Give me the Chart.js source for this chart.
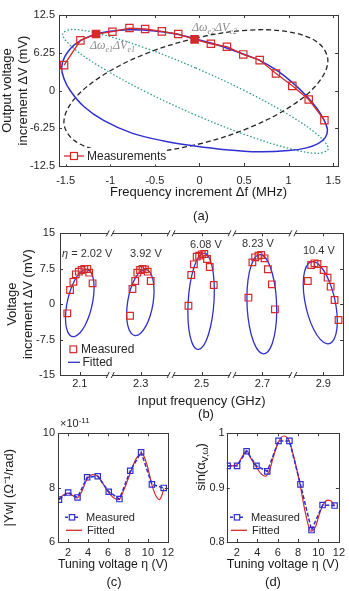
<!DOCTYPE html>
<html><head><meta charset="utf-8">
<script src="https://cdn.jsdelivr.net/npm/chart.js@4.4.0/dist/chart.umd.min.js"></script>
<style>
body{margin:0;background:#fff;width:349px;height:591px;position:relative;overflow:hidden;font-family:'Liberation Sans',Arial,sans-serif}
canvas{position:absolute}
.lab{position:absolute;font-size:13px;color:#1a1a1a;transform:translate(-50%,-50%)}
</style></head><body>
<canvas id="ca" width="349" height="200" style="left:0;top:0"></canvas>
<canvas id="cb" width="349" height="212" style="left:0;top:200px"></canvas>
<canvas id="cc" width="178" height="162" style="left:0;top:410px"></canvas>
<canvas id="cd" width="179" height="162" style="left:170px;top:410px"></canvas>
<div class="lab" style="left:201px;top:215px">(a)</div>
<div class="lab" style="left:206px;top:413px">(b)</div>
<div class="lab" style="left:114px;top:581px">(c)</div>
<div class="lab" style="left:273px;top:581px">(d)</div>
<script>
// ---- (a) frequency / voltage loci ----
const aXTicks = [-1.5, -1, -0.5, 0, 0.5, 1, 1.5];
const aXLabels = ['-1.5', '-1', '-0.5', '0', '0.5', '1', '1.5'];
const aYTicks = [-12.5, -6.25, 0, 6.25, 12.5];
const aYLabels = ['-12.5', '-6.25', '0', '6.25', '12.5'];
const aMeasX = [-1.518, -1.335, -1.159, -0.976, -0.785, -0.609, -0.422, -0.238, -0.055, 0.128, 0.308, 0.491, 0.675, 0.858, 1.041, 1.225, 1.401];
const aMeasY = [4.2, 8.3, 9.35, 9.73, 10.34, 10.18, 9.79, 9.35, 8.46, 7.74, 7.25, 5.97, 5.03, 2.82, 0.77, -1.49, -4.92];
const aFilled = [2, 8];
const aBlueX = [-0.05, 0.13, 0.31, 0.49, 0.68, 0.86, 1.04, 1.20, 1.32, 1.40, 1.435, 1.41, 1.33, 1.20, 1.00, 0.66, 0.29, -0.05, -0.40, -0.75, -1.07, -1.30, -1.45, -1.52, -1.545, -1.51, -1.40, -1.22, -1.00, -0.78, -0.50, -0.25];
const aBlueY = [8.55, 7.85, 7.0, 6.05, 4.95, 3.4, 1.35, -0.9, -3.0, -5.0, -6.5, -7.8, -8.8, -9.5, -9.95, -10.15, -9.8, -9.2, -8.35, -7.1, -5.0, -2.6, 0.0, 2.0, 3.8, 5.6, 7.6, 9.05, 9.8, 10.05, 9.85, 9.3];
const aGreenX = [-0.045, -0.616, -1.099, -1.422, -1.535, -1.422, -1.099, -0.616, -0.045, 0.526, 1.009, 1.332, 1.445, 1.332, 1.009, 0.526];
const aGreenY = [3.75, 7.08, 9.31, 10.10, 9.33, 7.12, 3.80, -0.12, -4.05, -7.38, -9.61, -10.40, -9.63, -7.42, -4.10, -0.18];
const aBlackX = [-0.04, -0.607, -1.086, -1.407, -1.52, -1.407, -1.086, -0.607, -0.04, 0.527, 1.006, 1.327, 1.44, 1.327, 1.006, 0.527];
const aBlackY = [8.68, 6.06, 2.49, -1.48, -5.25, -8.25, -10.00, -10.27, -8.98, -6.36, -2.79, 1.18, 4.95, 7.95, 9.70, 9.97];

// ---- (b) measured / fitted ellipses per tuning voltage ----
const bXTicks = [2.1, 2.3, 2.5, 2.7, 2.9];
const bXLabels = ['2.1', '2.3', '2.5', '2.7', '2.9'];
const bYTicks = [-15, -7.5, 0, 7.5, 15];
const bYLabels = ['-15', '-7.5', '0', '7.5', '15'];
const bBreaks = [2.2, 2.4, 2.6, 2.8];
const bVoltages = ['2.02 V', '3.92 V', '6.08 V', '8.23 V', '10.4 V'];
const b1X = [2.059, 2.068, 2.079, 2.087, 2.097, 2.106, 2.115, 2.125, 2.131, 2.142];
const b1Y = [-1.94, 3.0, 4.75, 6.32, 6.87, 7.23, 7.44, 7.44, 6.66, 4.41];
const b2X = [2.265, 2.273, 2.282, 2.289, 2.298, 2.306, 2.314, 2.323, 2.333];
const b2Y = [-2.45, 3.2, 4.9, 6.66, 7.23, 7.44, 7.37, 6.87, 4.9];
const b3X = [2.457, 2.466, 2.475, 2.484, 2.492, 2.501, 2.509, 2.518, 2.527, 2.540];
const b3Y = [-0.33, 6.17, 8.43, 10.05, 10.26, 10.55, 10.62, 9.56, 7.86, 4.05];
const b4X = [2.654, 2.667, 2.676, 2.687, 2.696, 2.707, 2.718, 2.731, 2.741];
const b4Y = [1.37, 8.85, 9.91, 10.26, 10.40, 9.7, 7.38, 4.2, -1.1];
const b5X = [2.849, 2.860, 2.871, 2.881, 2.901, 2.914, 2.924, 2.937, 2.950];
const b5Y = [4.9, 8.29, 8.64, 8.5, 7.23, 5.6, 3.7, 0.87, -3.36];
const f1X = [2.0566, 2.053, 2.0566, 2.0668, 2.0820, 2.100, 2.1180, 2.1332, 2.1434, 2.147, 2.1434, 2.1332, 2.1180, 2.100, 2.0820, 2.0668];
const f1Y = [-0.29, -2.97, -5.16, -6.52, -6.86, -6.11, -4.40, -1.97, 0.79, 3.47, 5.66, 7.02, 7.36, 6.61, 4.90, 2.47];
const f2X = [2.2574, 2.254, 2.2574, 2.2672, 2.2818, 2.299, 2.3162, 2.3308, 2.3406, 2.344, 2.3406, 2.3308, 2.3162, 2.299, 2.2818, 2.2672];
const f2Y = [0.60, -2.10, -4.43, -6.02, -6.65, -6.21, -4.77, -2.56, 0.10, 2.80, 5.13, 6.72, 7.35, 6.91, 5.47, 3.26];
const f3X = [2.4583, 2.455, 2.4583, 2.4677, 2.4818, 2.4985, 2.5152, 2.5293, 2.5387, 2.542, 2.5387, 2.5293, 2.5152, 2.4985, 2.4818, 2.4677];
const f3Y = [2.34, -1.64, -5.28, -8.02, -9.45, -9.35, -7.73, -4.84, -1.14, 2.84, 6.48, 9.22, 10.65, 10.55, 8.93, 6.04];
const f4X = [2.747, 2.7433, 2.7326, 2.7168, 2.698, 2.6792, 2.6634, 2.6527, 2.649, 2.6527, 2.6634, 2.6792, 2.698, 2.7168, 2.7326, 2.7433];
const f4Y = [-1.26, 2.83, 6.48, 9.15, 10.43, 10.12, 8.27, 5.16, 1.26, -2.83, -6.48, -9.15, -10.43, -10.12, -8.27, -5.16];
const f5X = [2.834, 2.8383, 2.8504, 2.8686, 2.89, 2.9114, 2.9296, 2.9417, 2.946, 2.9417, 2.9296, 2.9114, 2.89, 2.8686, 2.8504, 2.8383];
const f5Y = [4.22, 0.94, -2.43, -5.38, -7.47, -8.38, -7.96, -6.29, -3.62, -0.34, 3.03, 5.98, 8.07, 8.98, 8.56, 6.89];

// ---- (c) |Yw| and (d) sin(alpha) vs tuning voltage ----
const etaTicks = [2, 4, 6, 8, 10, 12];
const cYTicks = [6, 8, 10];
const dYTicks = [0.8, 0.9, 1];
const dYLabels = ['0.8', '0.9', '1'];
const etaMeas = [1.1, 2.02, 2.95, 3.92, 4.98, 6.08, 7.15, 8.23, 9.32, 10.4, 11.58];
const cMeas = [7.56, 7.82, 7.64, 8.38, 8.42, 7.85, 7.58, 8.62, 9.30, 8.12, 7.99];
const cFitX = [1.1, 1.5, 2.0, 2.5, 2.9, 3.3, 3.9, 4.5, 5.0, 5.5, 6.0, 6.6, 7.1, 7.6, 8.2, 8.8, 9.4, 9.9, 10.4, 10.8, 11.15, 11.4, 11.6];
const cFitY = [7.58, 7.72, 7.80, 7.70, 7.62, 7.80, 8.30, 8.48, 8.42, 8.15, 7.85, 7.62, 7.56, 7.92, 8.50, 9.05, 9.25, 8.85, 8.10, 7.70, 7.56, 7.72, 7.97];
const dMeas = [0.940, 0.940, 0.967, 0.940, 0.930, 0.986, 0.986, 0.906, 0.822, 0.868, 0.867];
const dFitX = [1.1, 1.5, 2.0, 2.5, 2.95, 3.4, 3.9, 4.4, 4.8, 5.2, 5.6, 6.08, 6.6, 7.1, 7.6, 8.2, 8.7, 9.25, 9.7, 10.1, 10.5, 10.9, 11.2, 11.6];
const dFitY = [0.940, 0.940, 0.942, 0.956, 0.968, 0.953, 0.938, 0.925, 0.921, 0.932, 0.958, 0.984, 0.995, 0.987, 0.955, 0.905, 0.855, 0.820, 0.828, 0.852, 0.870, 0.877, 0.876, 0.866];

const RED = '#d42a2a', BLUE = '#2f2fd2', GREEN = '#2e9a8c', DARK = '#262626', NONE = 'rgba(0,0,0,0)';
const FONT = "'Liberation Sans', Arial, sans-serif";
Chart.defaults.font.family = FONT;
Chart.defaults.color = DARK;

function pts(xs, ys) { return xs.map((x, i) => ({x: x, y: ys[i]})); }

// closed curve: wrap one point on each side so the spline closes smoothly, hide the wrap segments
function loopSet(xs, ys, color, width, dash) {
  const p = pts(xs, ys), n = p.length;
  return {
    data: [p[n - 1]].concat(p, [p[0], p[1]]),
    showLine: true, pointRadius: 0, borderColor: color, borderWidth: width,
    borderDash: dash || [], tension: 0.35,
    segment: { borderColor: c => (c.p0DataIndex === 0 || c.p0DataIndex === n + 1) ? NONE : undefined }
  };
}

function axis(min, max, ticks, labels, size, isX, pad, title) {
  return {
    type: 'linear', min: min, max: max,
    afterBuildTicks: s => { s.ticks = ticks.map(v => ({value: v})); },
    afterFit: s => { if (isX) s.height = size; else s.width = size; },
    grid: {display: false, drawTicks: false}, border: {display: false},
    ticks: {autoSkip: false, maxRotation: 0, padding: pad, font: {size: 11},
      callback: (v, i) => labels ? labels[i] : String(v)},
    title: title || {display: false}
  };
}

function frame(chart, xt, yt) {
  const {ctx, chartArea: a, scales: {x, y}} = chart;
  ctx.save();
  ctx.strokeStyle = '#3a3a3a'; ctx.lineWidth = 1; ctx.setLineDash([]);
  ctx.beginPath();
  xt.forEach(v => {
    const p = Math.round(x.getPixelForValue(v)) + 0.5;
    ctx.moveTo(p, a.bottom); ctx.lineTo(p, a.bottom - 3);
    ctx.moveTo(p, a.top); ctx.lineTo(p, a.top + 3);
  });
  yt.forEach(v => {
    const p = Math.round(y.getPixelForValue(v)) + 0.5;
    ctx.moveTo(a.left, p); ctx.lineTo(a.left + 3, p);
    ctx.moveTo(a.right, p); ctx.lineTo(a.right - 3, p);
  });
  ctx.stroke();
  ctx.strokeRect(Math.round(a.left) + 0.5, Math.round(a.top) + 0.5, Math.round(a.width), Math.round(a.height));
  ctx.restore();
}

// draws a run of text parts [text, font, dy]
function parts(ctx, list, x, y, color) {
  ctx.fillStyle = color; ctx.textBaseline = 'alphabetic'; ctx.textAlign = 'left';
  list.forEach(pt => { ctx.font = pt[1]; ctx.fillText(pt[0], x, y + (pt[2] || 0)); x += ctx.measureText(pt[0]).width; });
  return x;
}
function partsWidth(ctx, list) {
  let w = 0;
  list.forEach(pt => { ctx.font = pt[1]; w += ctx.measureText(pt[0]).width; });
  return w;
}
function square(ctx, x, y, s, color, fill) {
  ctx.lineWidth = 1.2; ctx.strokeStyle = color;
  if (fill) { ctx.fillStyle = fill; ctx.fillRect(x - s / 2, y - s / 2, s, s); }
  ctx.strokeRect(x - s / 2, y - s / 2, s, s);
}
function label(ctx, s, x, y, size) {
  ctx.font = size + 'px ' + FONT; ctx.fillStyle = DARK; ctx.textAlign = 'left'; ctx.textBaseline = 'middle';
  ctx.fillText(s, x, y);
}

const base = {responsive: false, animation: false, events: [],
  plugins: {legend: {display: false}, tooltip: {enabled: false}}};

// ---------- (a) ----------
new Chart(document.getElementById('ca'), {
  type: 'scatter',
  data: {datasets: [
    {data: pts(aMeasX, aMeasY), showLine: true, tension: 0, borderColor: RED, borderWidth: 1.3,
     pointStyle: 'rect', pointRadius: 5.2, pointBorderColor: RED, pointBorderWidth: 1.2,
     pointBackgroundColor: aMeasX.map((v, i) => aFilled.includes(i) ? RED : NONE)},
    loopSet(aBlueX, aBlueY, BLUE, 1.5),
    loopSet(aBlackX, aBlackY, DARK, 1.3, [5, 3]),
    loopSet(aGreenX, aGreenY, GREEN, 1.3, [1.5, 2])
  ]},
  options: Object.assign({}, base, {
    layout: {padding: {left: 0, right: 6, top: 15, bottom: 0}},
    scales: {
      x: axis(-1.575, 1.555, aXTicks, aXLabels, 34, true, 8,
        {display: true, text: 'Frequency increment Δf (MHz)', font: {size: 13}, padding: 0, color: '#1a1a1a'}),
      y: axis(-12.5, 12.5, aYTicks, aYLabels, 59, false, 4,
        {display: true, text: ['Output voltage', 'increment ΔV (mV)'], font: {size: 13}, padding: 0, color: '#1a1a1a'})
    }
  }),
  plugins: [{id: 'decoA', afterDatasetsDraw(chart) {
    const ctx = chart.ctx;
    frame(chart, aXTicks, aYTicks);
    ctx.save();
    const big = 'italic 12px "Liberation Serif", serif', sub = 'italic 8px "Liberation Serif", serif';
    parts(ctx, [['Δω', big], ['e1', sub, 3], ['ΔV', big], ['e1', sub, 3]], 90, 49, '#8c8c8c');
    parts(ctx, [['Δω', big], ['e2', sub, 3], ['ΔV', big], ['e2', sub, 3]], 192, 31, '#8c8c8c');
    ctx.fillStyle = '#fff'; ctx.fillRect(61, 148, 106, 16.5);
    ctx.strokeStyle = RED; ctx.lineWidth = 1.3;
    ctx.beginPath(); ctx.moveTo(64, 156); ctx.lineTo(84, 156); ctx.stroke();
    square(ctx, 74, 156, 7, RED, '#fff');
    label(ctx, 'Measurements', 87, 156.5, 12);
    ctx.restore();
  }}]
});

// ---------- (b) ----------
const bMeas = [[b1X, b1Y], [b2X, b2Y], [b3X, b3Y], [b4X, b4Y], [b5X, b5Y]].map(p => ({
  data: pts(p[0], p[1]), showLine: false, pointStyle: 'rect', pointRadius: 4.7,
  pointBorderColor: RED, pointBorderWidth: 1.2, pointBackgroundColor: NONE
}));
const bFit = [[f1X, f1Y], [f2X, f2Y], [f3X, f3Y], [f4X, f4Y], [f5X, f5Y]].map(p => loopSet(p[0], p[1], BLUE, 1.3));
new Chart(document.getElementById('cb'), {
  type: 'scatter',
  data: {datasets: bMeas.concat(bFit)},
  options: Object.assign({}, base, {
    layout: {padding: {left: 0, right: 5.7, top: 33.3, bottom: 0}},
    scales: {
      x: axis(2.035, 2.965, bXTicks, bXLabels, 37, true, 2,
        {display: true, text: 'Input frequency (GHz)', font: {size: 13}, padding: {top: 0, bottom: 3}, color: '#1a1a1a'}),
      y: axis(-15, 15, bYTicks, bYLabels, 60, false, 5,
        {display: true, text: ['Voltage', 'increment ΔV (mV)'], font: {size: 13}, padding: {top: 5, bottom: 0}, color: '#1a1a1a'})
    }
  }),
  plugins: [{id: 'decoB', afterDatasetsDraw(chart) {
    const ctx = chart.ctx, a = chart.chartArea, x = chart.scales.x;
    frame(chart, bXTicks, bYTicks);
    ctx.save();
    bBreaks.forEach(v => {
      const p = x.getPixelForValue(v);
      [a.top, a.bottom].forEach(e => {
        ctx.fillStyle = '#fff'; ctx.fillRect(p - 2, e - 1.5, 4, 3);
        ctx.strokeStyle = '#333'; ctx.lineWidth = 1;
        ctx.beginPath();
        ctx.moveTo(p - 4, e + 3); ctx.lineTo(p - 1, e - 3);
        ctx.moveTo(p + 1, e + 3); ctx.lineTo(p + 4, e - 3);
        ctx.stroke();
      });
    });
    const f11 = '11px ' + FONT;
    parts(ctx, [['η', 'italic ' + f11], [' = ' + bVoltages[0], f11]], 62, 57, '#333');
    parts(ctx, [[bVoltages[1], f11]], 130, 57, '#333');
    parts(ctx, [[bVoltages[2], f11]], 190, 48, '#333');
    parts(ctx, [[bVoltages[3], f11]], 242, 47, '#333');
    parts(ctx, [[bVoltages[4], f11]], 303, 54, '#333');
    square(ctx, 73.3, 149.3, 6.7, RED, null);
    label(ctx, 'Measured', 81, 149.5, 12);
    ctx.strokeStyle = BLUE; ctx.lineWidth = 1.3;
    ctx.beginPath(); ctx.moveTo(68, 162.3); ctx.lineTo(80, 162.3); ctx.stroke();
    label(ctx, 'Fitted', 82.5, 162.5, 12);
    ctx.restore();
  }}]
});

// ---------- (c) and (d) ----------
function legendCD(ctx, x0, y0) {
  ctx.strokeStyle = BLUE; ctx.lineWidth = 1.4; ctx.setLineDash([3, 2]);
  ctx.beginPath(); ctx.moveTo(x0, y0); ctx.lineTo(x0 + 15, y0); ctx.stroke();
  ctx.setLineDash([]);
  square(ctx, x0 + 7, y0, 5.4, BLUE, '#fff');
  label(ctx, 'Measured', x0 + 21, y0 + 0.5, 11);
  ctx.strokeStyle = RED; ctx.lineWidth = 1.3;
  ctx.beginPath(); ctx.moveTo(x0 + 1, y0 + 13); ctx.lineTo(x0 + 17, y0 + 13); ctx.stroke();
  label(ctx, 'Fitted', x0 + 22, y0 + 13.5, 11);
}
function cdSets(meas, fx, fy) {
  return [
    {data: pts(etaMeas, meas), showLine: true, tension: 0, borderColor: BLUE, borderWidth: 1.5, borderDash: [4, 2],
     pointStyle: 'rect', pointRadius: 3.8, pointBorderColor: BLUE, pointBorderWidth: 1.2, pointBackgroundColor: NONE},
    {data: pts(fx, fy), showLine: true, cubicInterpolationMode: 'monotone', borderColor: RED, borderWidth: 1.2, pointRadius: 0}
  ];
}

new Chart(document.getElementById('cc'), {
  type: 'scatter',
  data: {datasets: cdSets(cMeas, cFitX, cFitY)},
  options: Object.assign({}, base, {
    layout: {padding: {left: 0, right: 4.7, top: 23.3, bottom: 0}},
    scales: {
      x: axis(1, 12, etaTicks, null, 30, true, 4,
        {display: true, text: 'Tuning voltage η (V)', font: {size: 13}, padding: 0, color: '#1a1a1a'}),
      y: axis(6, 10, cYTicks, null, 58, false, 3,
        {display: true, text: '|Yw| (Ω⁻¹/rad)', font: {size: 13}, padding: {top: 2, bottom: 0}, color: '#1a1a1a'})
    }
  }),
  plugins: [{id: 'decoC', afterDatasetsDraw(chart) {
    const ctx = chart.ctx;
    frame(chart, etaTicks, cYTicks);
    ctx.save();
    parts(ctx, [['×10', '11px ' + FONT], ['-11', '8px ' + FONT, -4]], 60, 17, DARK);
    legendCD(ctx, 65, 107.3);
    ctx.restore();
  }}]
});

new Chart(document.getElementById('cd'), {
  type: 'scatter',
  data: {datasets: cdSets(dMeas, dFitX, dFitY)},
  options: Object.assign({}, base, {
    layout: {padding: {left: 0, right: 5, top: 23.3, bottom: 0}},
    scales: {
      x: axis(1, 12, etaTicks, null, 30, true, 4,
        {display: true, text: 'Tuning voltage η (V)', font: {size: 13}, padding: 0, color: '#1a1a1a'}),
      y: axis(0.8, 1, dYTicks, dYLabels, 56.7, false, 2)
    }
  }),
  plugins: [{id: 'decoD', afterDatasetsDraw(chart) {
    const ctx = chart.ctx;
    frame(chart, etaTicks, dYTicks);
    ctx.save();
    const t = [['sin(α', '13px ' + FONT], ['V,ω', '9px ' + FONT, 3], [')', '13px ' + FONT]];
    const w = partsWidth(ctx, t);
    ctx.translate(35, 57); ctx.rotate(-Math.PI / 2);
    parts(ctx, t, -w / 2, 0, '#1a1a1a');
    ctx.restore();
    ctx.save();
    legendCD(ctx, 60, 107.3);
    ctx.restore();
  }}]
});
</script>
</body></html>
